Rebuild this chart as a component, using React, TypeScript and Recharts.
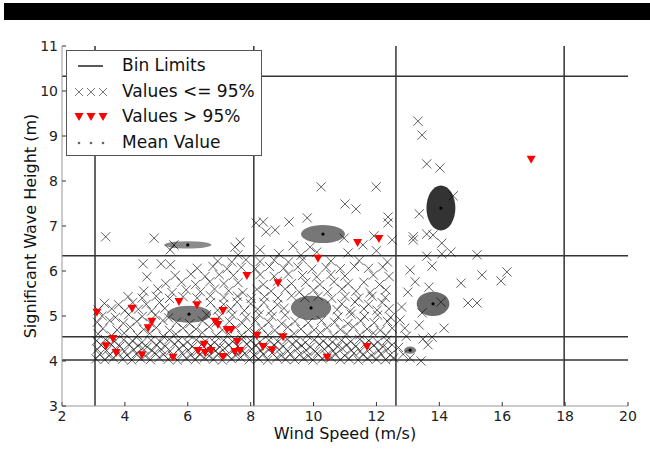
import { ScatterChart, Scatter, XAxis, YAxis, ReferenceLine } from 'recharts'

// bin limits (wind speed / wave height)
const binX = [3.05, 8.1, 12.62, 17.97]
const binY = [4.02, 4.54, 6.34, 10.33]

const xTicks = [2, 4, 6, 8, 10, 12, 14, 16, 18, 20]
const yTicks = [3, 4, 5, 6, 7, 8, 9, 10, 11]

// values <= 95% : the dense band just above 4 m
const lowBand: [number, number][] = [
  [3.08, 4.05], [3.36, 4.03], [3.64, 4.07], [3.93, 4.04], [4.22, 4.02], [4.5, 4.06], [4.81, 4.03], [5.09, 4.08], [5.38, 4.04], [5.67, 4.02], [5.95, 4.06], [6.24, 4.03], [6.53, 4.07], [6.82, 4.04], [7.1, 4.02], [7.39, 4.05], [7.68, 4.08], [7.96, 4.03], [8.25, 4.05], [8.54, 4.02], [8.83, 4.07], [9.11, 4.04], [9.4, 4.03], [9.69, 4.06], [9.98, 4.02], [10.27, 4.05], [10.56, 4.08], [10.85, 4.03], [11.13, 4.05], [11.42, 4.02], [11.71, 4.06], [12.0, 4.04], [12.29, 4.03], [12.55, 4.07],
  [3.2, 4.15], [3.5, 4.12], [3.79, 4.17], [4.07, 4.13], [4.36, 4.16], [4.65, 4.11], [4.95, 4.18], [5.23, 4.14], [5.52, 4.12], [5.81, 4.17], [6.1, 4.13], [6.38, 4.15], [6.67, 4.11], [6.96, 4.16], [7.25, 4.14], [7.53, 4.12], [7.82, 4.17], [8.11, 4.13], [8.4, 4.15], [8.68, 4.18], [8.97, 4.12], [9.26, 4.16], [9.55, 4.14], [9.83, 4.11], [10.12, 4.17], [10.41, 4.13], [10.7, 4.15], [10.99, 4.12], [11.28, 4.17], [11.56, 4.14], [11.85, 4.12], [12.14, 4.16], [12.43, 4.13],
  [3.12, 4.26], [3.42, 4.23], [3.7, 4.27], [3.99, 4.22], [4.28, 4.25], [4.57, 4.28], [4.86, 4.23], [5.15, 4.26], [5.44, 4.22], [5.72, 4.27], [6.01, 4.24], [6.3, 4.21], [6.59, 4.26], [6.88, 4.23], [7.17, 4.28], [7.46, 4.24], [7.74, 4.22], [8.03, 4.26], [8.32, 4.23], [8.61, 4.27], [8.9, 4.25], [9.18, 4.22], [9.47, 4.27], [9.76, 4.24], [10.05, 4.21], [10.34, 4.26], [10.62, 4.23], [10.91, 4.28], [11.2, 4.24], [11.49, 4.22], [11.78, 4.26], [12.07, 4.23], [12.36, 4.27],
  [3.25, 4.35], [3.55, 4.38], [3.84, 4.33], [4.13, 4.37], [4.42, 4.34], [4.71, 4.31], [5.0, 4.36], [5.29, 4.33], [5.58, 4.38], [5.86, 4.35], [6.15, 4.32], [6.44, 4.37], [6.73, 4.34], [7.02, 4.31], [7.31, 4.36], [7.6, 4.33], [7.88, 4.38], [8.17, 4.35], [8.46, 4.32], [8.75, 4.36], [9.04, 4.33], [9.33, 4.38], [9.62, 4.34], [9.9, 4.31], [10.19, 4.37], [10.48, 4.34], [10.77, 4.32], [11.06, 4.36], [11.35, 4.33], [11.64, 4.38], [11.92, 4.35], [12.21, 4.32], [12.5, 4.36],
  [3.1, 4.45], [3.38, 4.48], [3.67, 4.43], [3.96, 4.47], [4.25, 4.44], [4.54, 4.41], [4.83, 4.46], [5.12, 4.43], [5.41, 4.48], [5.7, 4.45], [5.99, 4.42], [6.27, 4.47], [6.56, 4.44], [6.85, 4.41], [7.14, 4.46], [7.43, 4.43], [7.72, 4.48], [8.0, 4.45], [8.29, 4.42], [8.58, 4.46], [8.87, 4.43], [9.16, 4.48], [9.45, 4.44], [9.74, 4.41], [10.02, 4.47], [10.31, 4.44], [10.6, 4.42], [10.89, 4.46], [11.18, 4.43], [11.47, 4.48], [11.76, 4.45], [12.04, 4.42], [12.33, 4.46],
]

const midBand: [number, number][] = [
  [3.15, 4.6], [3.58, 4.56], [3.98, 4.62], [4.4, 4.57], [4.79, 4.61], [5.22, 4.55], [5.62, 4.6], [6.05, 4.58], [6.46, 4.63], [6.9, 4.56], [7.3, 4.61], [7.71, 4.57], [8.14, 4.62], [8.55, 4.58], [8.96, 4.55], [9.38, 4.61], [9.8, 4.57], [10.22, 4.63], [10.63, 4.56], [11.05, 4.6], [11.47, 4.58], [11.9, 4.62], [12.3, 4.57],
  [3.3, 4.72], [3.75, 4.69], [4.17, 4.75], [4.6, 4.7], [5.0, 4.74], [5.42, 4.68], [5.85, 4.73], [6.26, 4.71], [6.68, 4.76], [7.1, 4.69], [7.52, 4.74], [7.93, 4.7], [8.35, 4.73], [8.77, 4.68], [9.18, 4.75], [9.6, 4.71], [10.02, 4.69], [10.43, 4.74], [10.85, 4.7], [11.27, 4.76], [11.7, 4.71], [12.12, 4.68], [12.5, 4.73],
  [3.12, 4.86], [3.52, 4.9], [3.95, 4.84], [4.38, 4.88], [4.8, 4.85], [5.21, 4.9], [5.64, 4.86], [6.06, 4.83], [6.47, 4.89], [6.9, 4.85], [7.32, 4.88], [7.73, 4.84], [8.15, 4.9], [8.57, 4.86], [8.99, 4.83], [9.41, 4.88], [9.83, 4.85], [10.25, 4.9], [10.67, 4.86], [11.09, 4.83], [11.5, 4.89], [11.93, 4.85], [12.35, 4.88],
  [3.28, 5.0], [3.7, 4.97], [4.12, 5.03], [4.55, 4.99], [4.97, 5.02], [5.39, 4.96], [6.6, 5.03], [7.0, 4.98], [7.42, 5.02], [7.85, 4.97], [8.27, 5.03], [8.68, 4.99], [9.1, 5.02], [10.78, 4.98], [11.2, 5.04], [11.62, 4.99], [12.04, 5.02], [12.45, 4.97],
  [3.15, 5.13], [3.58, 5.16], [4.0, 5.12], [4.43, 5.15], [4.85, 5.11], [5.27, 5.17], [6.95, 5.13], [7.37, 5.16], [7.8, 5.12], [8.22, 5.15], [8.64, 5.11], [9.06, 5.17], [10.75, 5.14], [11.17, 5.11], [11.6, 5.16], [12.02, 5.13], [12.4, 5.16],
  [3.35, 5.28], [3.8, 5.25], [4.25, 5.3], [4.68, 5.26], [5.1, 5.3], [6.72, 5.3], [7.14, 5.26], [7.57, 5.31], [8.0, 5.27], [8.42, 5.3], [8.85, 5.25], [10.9, 5.27], [11.32, 5.31], [11.75, 5.26], [12.18, 5.3],
  [4.1, 5.43], [4.55, 5.4], [5.0, 5.44], [5.42, 5.39], [5.85, 5.43], [6.3, 5.4], [6.72, 5.45], [7.15, 5.41], [7.58, 5.44], [8.02, 5.39], [8.44, 5.43], [8.87, 5.4], [9.3, 5.45], [9.72, 5.41], [10.15, 5.44], [10.58, 5.39], [11.0, 5.43], [11.43, 5.4], [11.86, 5.44], [12.28, 5.41],
]

const upperBand: [number, number][] = [
  [4.6, 5.55], [5.05, 5.6], [5.5, 5.52], [5.95, 5.58], [6.4, 5.54], [6.85, 5.6], [7.3, 5.56], [7.75, 5.52], [8.2, 5.59], [8.65, 5.55], [9.1, 5.6], [9.55, 5.53], [10.0, 5.58], [10.45, 5.54], [10.9, 5.6], [11.35, 5.55], [11.8, 5.52], [12.3, 5.58],
  [5.3, 5.72], [5.8, 5.75], [6.25, 5.7], [6.7, 5.76], [7.15, 5.72], [7.6, 5.74], [8.4, 5.7], [8.85, 5.77], [9.3, 5.72], [9.75, 5.75], [10.2, 5.7], [10.65, 5.76], [11.1, 5.72], [11.6, 5.75], [12.1, 5.7],
  [5.6, 5.9], [6.1, 5.93], [6.55, 5.88], [7.0, 5.92], [7.45, 5.9], [8.3, 5.92], [8.75, 5.88], [9.2, 5.93], [9.65, 5.9], [10.1, 5.87], [10.55, 5.92], [11.0, 5.89], [11.9, 5.91], [12.4, 5.88],
  [6.3, 6.06], [6.8, 6.1], [7.25, 6.05], [7.7, 6.08], [8.15, 6.05], [8.6, 6.1], [9.05, 6.06], [9.5, 6.09], [9.95, 6.04], [10.4, 6.08], [10.85, 6.05], [11.3, 6.1], [11.75, 6.06], [12.2, 6.09],
  [6.95, 6.22], [7.4, 6.2], [7.85, 6.25], [8.3, 6.21], [8.75, 6.24], [9.2, 6.2], [9.65, 6.25], [10.55, 6.22], [11.45, 6.23], [12.35, 6.2],
  [4.58, 6.16], [5.15, 6.16], [5.45, 6.14], [4.7, 5.87],
]

const sparsePoints: [number, number][] = [
  [3.39, 6.76], [4.93, 6.73], [5.44, 6.47], [5.56, 6.58], [7.5, 6.53], [7.66, 6.64], [7.6, 6.36], [10.24, 7.87], [11.99, 7.87], [11.0, 7.49], [11.35, 7.38],
  [8.4, 7.09], [9.22, 7.09], [9.8, 7.18], [8.49, 6.87], [8.78, 6.91], [12.37, 7.2], [12.37, 7.07], [10.97, 6.73], [11.92, 6.78], [12.5, 6.69], [9.35, 6.56],
  [9.89, 6.53], [11.57, 6.58], [8.3, 6.47], [8.17, 7.07], [8.9, 6.38], [10.1, 6.42], [11.1, 6.4], [12.0, 6.45], [9.6, 6.35],
  [13.32, 9.33], [13.45, 9.02], [13.6, 8.38], [14.02, 8.29], [14.44, 7.67], [13.36, 7.27], [13.6, 6.82], [13.8, 6.8], [13.17, 6.76], [13.17, 6.69],
  [14.08, 6.62], [14.08, 6.38], [14.37, 6.42], [13.6, 6.33], [15.2, 6.36], [13.77, 6.11], [13.07, 6.02], [15.36, 5.91], [16.15, 5.98], [15.96, 5.78],
  [13.23, 5.76], [14.69, 5.73], [13.67, 5.64], [13.0, 5.53], [14.05, 5.31], [14.91, 5.29], [15.2, 5.29], [13.45, 5.07], [13.36, 4.8], [14.15, 4.73],
  [13.77, 4.53], [13.64, 4.36], [13.07, 4.07], [13.42, 4.0], [12.75, 4.91], [12.9, 4.73], [13.48, 4.49], [12.7, 4.3], [12.85, 4.15], [12.95, 4.55], [12.8, 5.2],
]

// values > 95%
const exceedPoints: [number, number][] = [
  [3.11, 5.07], [4.23, 5.16], [4.86, 4.87], [4.74, 4.73], [5.72, 5.31], [6.29, 5.24], [7.12, 5.11], [6.87, 4.87], [6.96, 4.8], [7.25, 4.69],
  [7.38, 4.69], [7.88, 5.89], [3.62, 4.49], [3.4, 4.33], [3.72, 4.18], [4.54, 4.13], [5.53, 4.07], [6.52, 4.36], [6.33, 4.22], [6.55, 4.18],
  [6.74, 4.22], [7.12, 4.09], [7.57, 4.42], [7.5, 4.2], [7.66, 4.22], [8.2, 4.56], [8.87, 5.73], [10.14, 6.27], [8.39, 4.31], [8.68, 4.24],
  [9.03, 4.53], [10.43, 4.07], [11.7, 4.31], [11.4, 6.62], [12.08, 6.71], [16.92, 8.47],
]

// mean value per bin with its spread
const meanX = [6.0, 10.3, 6.04, 9.92, 14.05, 13.8, 13.07]
const meanY = [6.58, 6.82, 5.04, 5.18, 7.4, 5.27, 4.24]
const spreadX = [0.75, 0.7, 0.7, 0.64, 0.46, 0.52, 0.19]
const spreadY = [0.08, 0.2, 0.19, 0.27, 0.5, 0.27, 0.08]
const ellipseShade = ['#8a8a8a', '#777', '#7a7a7a', '#777', '#333', '#6a6a6a', '#7a7a7a']

const X_DOMAIN: [number, number] = [2, 20]
const Y_DOMAIN: [number, number] = [3, 11]
const PLOT_W = 566
const PLOT_H = 360
const pxPerX = PLOT_W / (X_DOMAIN[1] - X_DOMAIN[0])
const pxPerY = PLOT_H / (Y_DOMAIN[1] - Y_DOMAIN[0])

const font = '"DejaVu Sans", sans-serif'

const toPoints = (arr: [number, number][]) => arr.map(([x, y]) => ({ x, y }))
const crossData = [...toPoints(lowBand), ...toPoints(midBand), ...toPoints(upperBand), ...toPoints(sparsePoints)]
const meanData = meanX.map((x, i) => ({ x, y: meanY[i], sx: spreadX[i], sy: spreadY[i], shade: ellipseShade[i] }))

const Cross = (props: any) => {
  const { cx, cy } = props
  const s = 4.6
  return (
    <path
      d={`M${cx - s},${cy - s}L${cx + s},${cy + s}M${cx - s},${cy + s}L${cx + s},${cy - s}`}
      stroke="#000"
      strokeOpacity={0.62}
      strokeWidth={1}
      fill="none"
    />
  )
}

const DownTriangle = (props: any) => {
  const { cx, cy } = props
  return <path d={`M${cx - 4.5},${cy - 4}L${cx + 4.5},${cy - 4}L${cx},${cy + 4}Z`} fill="#ff0000" />
}

const MeanEllipse = (props: any) => {
  const { cx, cy, payload } = props
  return (
    <g>
      <ellipse cx={cx} cy={cy} rx={payload.sx * pxPerX} ry={payload.sy * pxPerY} fill={payload.shade} />
      <circle cx={cx} cy={cy} r={1.6} fill="#000" />
    </g>
  )
}

function LegendBox() {
  const rows = ['Bin Limits', 'Values <= 95%', 'Values > 95%', 'Mean Value']
  const marks = [12, 24, 36]
  return (
    <div
      style={{
        position: 'absolute',
        left: 66,
        top: 50,
        width: 194,
        height: 104,
        background: '#fff',
        border: '1px solid #555',
        fontFamily: font,
        fontSize: 17,
        color: '#111',
      }}
    >
      {rows.map((r, i) => (
        <div key={r} style={{ position: 'absolute', left: 0, top: 3 + i * 25.7, height: 24, width: 194 }}>
          <svg width={48} height={24} style={{ position: 'absolute', left: 0, top: 0 }}>
            {i === 0 && <line x1={11} x2={36} y1={12} y2={12} stroke="#222" strokeWidth={1.5} />}
            {i === 1 &&
              marks.map((m) => (
                <path key={m} d={`M${m - 4},${12 - 4}L${m + 4},${12 + 4}M${m - 4},${12 + 4}L${m + 4},${12 - 4}`} stroke="#777" strokeWidth={1} />
              ))}
            {i === 2 && marks.map((m) => <path key={m} d={`M${m - 4.5},8L${m + 4.5},8L${m},16Z`} fill="#ff0000" />)}
            {i === 3 && marks.map((m) => <circle key={m} cx={m} cy={12} r={1.3} fill="#666" />)}
          </svg>
          <span style={{ position: 'absolute', left: 55, top: 1, whiteSpace: 'nowrap' }}>{r}</span>
        </div>
      ))}
    </div>
  )
}

export default function App() {
  return (
    <div style={{ position: 'fixed', left: 0, top: 0, width: 650, height: 450, background: '#fff' }}>
      <div style={{ position: 'absolute', left: 4, top: 3, width: 646, height: 17, background: '#000' }} />
      <ScatterChart width={650} height={450} margin={{ top: 46, right: 22, bottom: 8, left: 22 }}>
        <XAxis
          type="number"
          dataKey="x"
          domain={X_DOMAIN}
          ticks={xTicks}
          allowDataOverflow
          height={36}
          tickSize={-4}
          tickMargin={9}
          axisLine={{ stroke: '#999' }}
          tickLine={{ stroke: '#333' }}
          tick={{ fontSize: 14, fill: '#222', fontFamily: font }}
          label={{ value: 'Wind Speed (m/s)', position: 'insideBottom', offset: 3, fontSize: 16, fill: '#111', fontFamily: font }}
        />
        <XAxis xAxisId="top" type="number" orientation="top" domain={X_DOMAIN} ticks={xTicks} height={0} tickSize={-4} tick={false} axisLine={{ stroke: '#999' }} tickLine={{ stroke: '#333' }} />
        <YAxis
          type="number"
          dataKey="y"
          domain={Y_DOMAIN}
          ticks={yTicks}
          allowDataOverflow
          width={40}
          tickSize={-4}
          tickMargin={8}
          axisLine={{ stroke: '#999' }}
          tickLine={{ stroke: '#333' }}
          tick={{ fontSize: 14, fill: '#222', fontFamily: font }}
          label={{ value: 'Significant Wave Height (m)', angle: -90, position: 'insideLeft', offset: 8, fontSize: 16, fill: '#111', fontFamily: font, style: { textAnchor: 'middle' } }}
        />
        <YAxis yAxisId="right" type="number" orientation="right" domain={Y_DOMAIN} ticks={yTicks} width={0} tickSize={-4} tick={false} axisLine={{ stroke: '#999' }} tickLine={{ stroke: '#333' }} />
        {binX.map((v) => (
          <ReferenceLine key={'bx' + v} x={v} stroke="#333" strokeWidth={1.5} />
        ))}
        {binY.map((v) => (
          <ReferenceLine key={'by' + v} y={v} stroke="#333" strokeWidth={1.5} />
        ))}
        <Scatter data={meanData} shape={MeanEllipse} isAnimationActive={false} />
        <Scatter data={crossData} shape={Cross} isAnimationActive={false} />
        <Scatter data={toPoints(exceedPoints)} shape={DownTriangle} isAnimationActive={false} />
      </ScatterChart>
      <LegendBox />
    </div>
  )
}
